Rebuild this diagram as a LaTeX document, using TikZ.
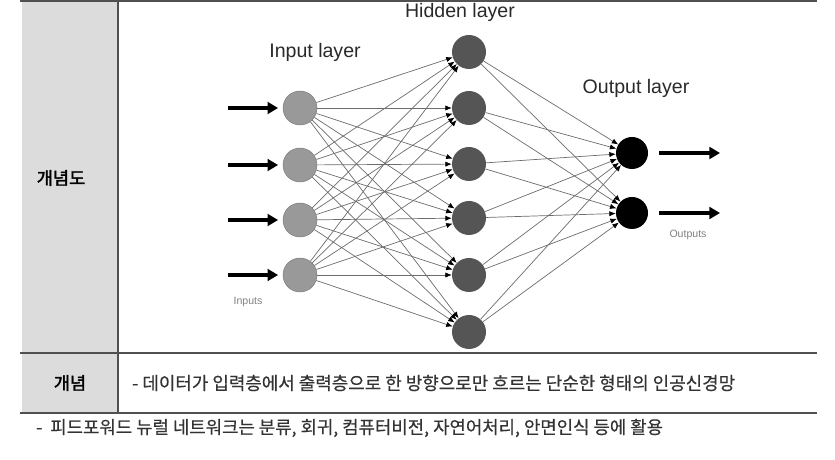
\documentclass[tikz,border=0pt]{standalone}
\usepackage{fontspec}
\setmainfont{Liberation Sans}
\newfontfamily\cjk[FakeBold=0.4]{Noto Sans CJK KR}
\newfontfamily\cjkbold[FakeBold=2]{Noto Sans CJK KR}
\usetikzlibrary{arrows.meta}
\definecolor{cellgray}{HTML}{DCDCDC}
\definecolor{rulegray}{HTML}{505050}
\definecolor{ingray}{HTML}{999999}
\definecolor{hidgray}{HTML}{555555}
\definecolor{textgray}{HTML}{333333}
\tikzset{
	inneuron/.style={circle,draw=ingray!80!black,fill=ingray,minimum size=1.02cm,inner sep=0pt},
	hidneuron/.style={circle,fill=hidgray,minimum size=1.02cm,inner sep=0pt},
	outneuron/.style={circle,fill=black,minimum size=0.96cm,inner sep=0pt},
	link/.style={draw=gray!85!black,line width=0.6pt,-{Latex[length=5.5pt,width=4.5pt,color=black]}},
	bigarrow/.style={line width=3.4pt,-{Triangle[length=9pt,width=10pt]}},
	layername/.style={font=\fontsize{16.7}{18}\selectfont,text=textgray!80!black},
	smalltext/.style={font=\fontsize{9}{10}\selectfont,text=gray}
}

\begin{document}
\begin{tikzpicture}[x=0.03cm,y=-0.03cm]
	\useasboundingbox (0,0) rectangle (835,460);
	\fill[cellgray] (22,1) rectangle (118,413);
	\draw[rulegray,line width=1pt] (20,1) -- (817,1);
	\draw[rulegray,line width=1pt] (20,353) -- (817,353);
	\draw[rulegray,line width=1pt] (20,413) -- (817,413);
	\draw[rulegray,line width=1pt] (118,1) -- (118,413);
	\node[font=\cjkbold\fontsize{15}{17}\selectfont] (concfig) at (61,178) {개념도};
	\node[font=\cjkbold\fontsize{15}{17}\selectfont] (conc) at (70,383) {개념};
	\node[anchor=west,font=\cjk\fontsize{15.3}{17}\selectfont,text=textgray] (desc) at (128,383) {- 데이터가 입력층에서 출력층으로 한 방향으로만 흐르는 단순한 형태의 인공신경망};
	\node[anchor=west,font=\cjk\fontsize{15.2}{17}\selectfont,text=textgray] (usage) at (32,428) {-\ \ 피드포워드 뉴럴 네트워크는 분류, 회귀, 컴퓨터비전, 자연어처리, 안면인식 등에 활용};

	\foreach \y [count=\i] in {108,165,220,275} {
		\node[inneuron] (i\i) at (300,\y) {};
		\coordinate (a\i) at (228,\y);
	}
	\foreach \y [count=\i] in {52,108,164,218,275,332}
		\node[hidneuron] (h\i) at (469,\y) {};
	\foreach \y [count=\i] in {153,213} {
		\node[outneuron] (o\i) at (632,\y) {};
		\coordinate (b\i) at (659,\y);
		\coordinate (c\i) at (720,\y);
	}

	\foreach \i in {1,...,4}
		\foreach \h in {1,...,6}
			\draw[link] (i\i) -- (h\h);
	\foreach \h in {1,...,6}
		\foreach \o in {1,2}
			\draw[link] (h\h) -- (o\o);
	\foreach \i in {1,...,4}
		\draw[bigarrow,shorten >=4pt] (a\i) -- (i\i);
	\foreach \o in {1,2}
		\draw[bigarrow] (b\o) -- (c\o);

	\node[layername] (inlabel) at (315,52) {Input layer};
	\node[layername] (hidlabel) at (460,12) {Hidden layer};
	\node[layername] (outlabel) at (636,88) {Output layer};
	\node[smalltext] (intext) at (248,302) {Inputs};
	\node[smalltext] (outtext) at (688,235) {Outputs};
\end{tikzpicture}
\end{document}
